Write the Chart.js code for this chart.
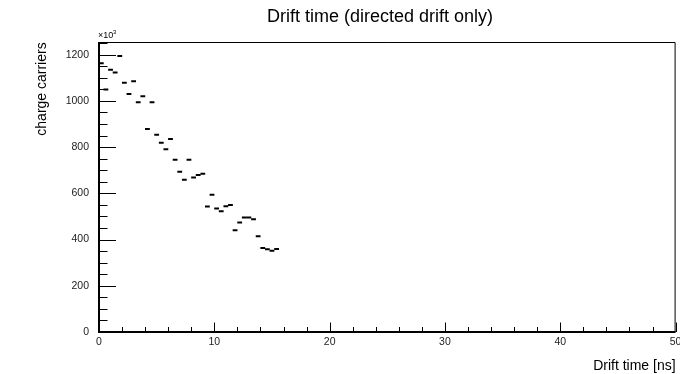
<!DOCTYPE html>
<html>
<head>
<meta charset="utf-8">
<script src="https://cdn.jsdelivr.net/npm/chart.js@4.4.1/dist/chart.umd.min.js"></script>
<style>
  html, body { margin: 0; padding: 0; background: #fff; }
</style>
</head>
<body>
<canvas id="drift" width="680" height="374"></canvas>
<script>
// histogram, 0.4 ns bins from 0 ns; values in units of 10^3 carriers
const binWidth = 0.4;
const counts = [1163, 1049, 1135, 1123, 1194, 1079, 1030, 1085, 994, 1020,
                878, 994, 854, 819, 791, 835, 745, 693, 659, 745,
                669, 679, 685, 543, 594, 534, 523, 544, 550, 440,
                474, 495, 495, 488, 414, 363, 358, 352, 359];
const xTickLabels = [0, 10, 20, 30, 40, 50];
const yTickLabels = [0, 200, 400, 600, 800, 1000, 1200];

const FONT = "'Liberation Sans', Arial, sans-serif";

const points = counts.map((v, i) => ({ x: (i + 0.5) * binWidth, y: v }));

// ROOT style frame, inner ticks and texts
const rootFrame = {
    id: 'rootFrame',
    afterDraw(chart) {
        const { ctx, chartArea: a, scales } = chart;
        const xs = scales.x, ys = scales.y;
        ctx.save();
        ctx.strokeStyle = '#000';

        // thin top/right frame
        ctx.lineWidth = 1;
        ctx.beginPath();
        ctx.moveTo(a.left, a.top + 0.5);
        ctx.lineTo(a.right - 0.5, a.top + 0.5);
        ctx.lineTo(a.right - 0.5, a.bottom);
        ctx.stroke();

        // y ticks
        for (let v = 0; v <= ys.max; v += 50) {
            const py = Math.round(ys.getPixelForValue(v)) + 0.5;
            const len = v % 200 === 0 ? 17 : 8.5;
            ctx.beginPath();
            ctx.moveTo(a.left, py);
            ctx.lineTo(a.left + len, py);
            ctx.stroke();
        }
        // x ticks
        for (let v = 0; v <= xs.max; v += 2) {
            const px = Math.round(xs.getPixelForValue(v)) + 0.5;
            const len = v % 10 === 0 ? 9.5 : 5;
            ctx.beginPath();
            ctx.moveTo(px, a.bottom);
            ctx.lineTo(px, a.bottom - len);
            ctx.stroke();
        }

        // thick axis lines
        ctx.lineWidth = 2;
        ctx.beginPath();
        ctx.moveTo(a.left, a.top);
        ctx.lineTo(a.left, a.bottom);
        ctx.lineTo(a.right, a.bottom);
        ctx.stroke();

        ctx.fillStyle = '#000';
        // title
        ctx.font = '18px ' + FONT;
        ctx.textAlign = 'center';
        ctx.textBaseline = 'alphabetic';
        ctx.fillText('Drift time (directed drift only)', 380, 22);

        // x title
        ctx.font = '14px ' + FONT;
        ctx.textAlign = 'right';
        ctx.fillText('Drift time [ns]', a.right, 370);

        // y title
        ctx.save();
        ctx.translate(46, 89);
        ctx.rotate(-Math.PI / 2);
        ctx.textAlign = 'center';
        ctx.fillText('charge carriers', 0, 0);
        ctx.restore();

        // exponent
        ctx.textAlign = 'left';
        ctx.font = '9px ' + FONT;
        ctx.fillText('\u00d710', a.left - 1, a.top - 4);
        ctx.font = '6px ' + FONT;
        ctx.fillText('3', a.left + 14, a.top - 8);

        ctx.restore();
    }
};

new Chart(document.getElementById('drift'), {
    type: 'scatter',
    data: {
        datasets: [{
            data: points,
            showLine: false,
            pointStyle: 'line',
            pointRadius: 2.4,
            pointHoverRadius: 2.4,
            borderWidth: 2,
            borderColor: '#000',
            backgroundColor: '#000'
        }]
    },
    options: {
        responsive: false,
        animation: false,
        devicePixelRatio: 1,
        layout: { padding: { top: 42, right: 3, left: 0, bottom: 0 } },
        plugins: {
            legend: { display: false },
            tooltip: { enabled: false },
            title: { display: false }
        },
        scales: {
            x: {
                type: 'linear',
                min: 0,
                max: 50,
                grid: { display: false, drawTicks: false },
                border: { display: false },
                ticks: {
                    stepSize: 10,
                    padding: 4,
                    color: '#222',
                    font: { family: FONT, size: 10.5 },
                    maxRotation: 0,
                    callback: v => String(v)
                },
                afterBuildTicks(s) {
                    s.ticks = xTickLabels.map(v => ({ value: v }));
                },
                afterFit(s) {
                    s.height = 42;
                    s.paddingLeft = 0;
                    s.paddingRight = 0;
                }
            },
            y: {
                min: 0,
                max: 1255,
                grid: { display: false, drawTicks: false },
                border: { display: false },
                ticks: {
                    stepSize: 200,
                    padding: 10,
                    color: '#222',
                    font: { family: FONT, size: 10.5 },
                    callback: v => String(v)
                },
                afterBuildTicks(s) {
                    s.ticks = yTickLabels.map(v => ({ value: v }));
                },
                afterFit(s) {
                    s.width = 99;
                    s.paddingTop = 0;
                    s.paddingBottom = 0;
                }
            }
        }
    },
    plugins: [rootFrame]
});
</script>
</body>
</html>
